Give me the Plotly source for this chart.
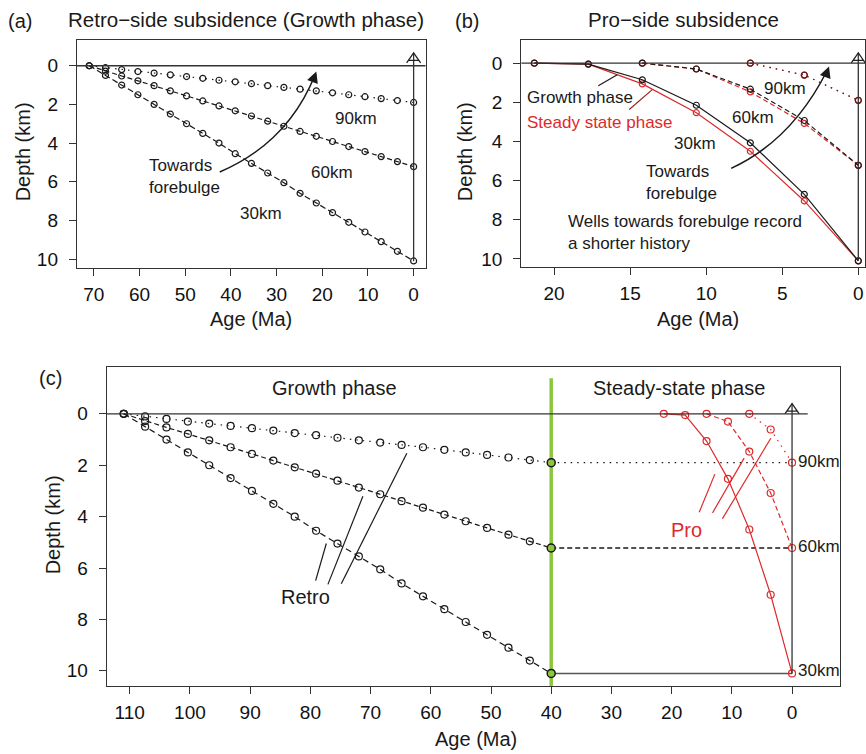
import plotly.graph_objects as go

W, H = 866, 754

# ---------------- data ----------------
# Retro-side wells (panel a): ages (Ma) and depths (km)
retro_age_a = [71.0, 67.45, 63.9, 60.35, 56.8, 53.25, 49.7, 46.15, 42.6, 39.05, 35.5,
               31.95, 28.4, 24.85, 21.3, 17.75, 14.2, 10.65, 7.1, 3.55, 0.0]
# same wells in panel c (growth phase ends at 40 Ma)
retro_age_c = [111.0, 107.45, 103.9, 100.35, 96.8, 93.25, 89.7, 86.15, 82.6, 79.05, 75.5,
               71.95, 68.4, 64.85, 61.3, 57.75, 54.2, 50.65, 47.1, 43.55, 40.0]
retro_30 = [0, 0.5, 1.0, 1.5, 2.0, 2.5, 3.0, 3.5, 4.0, 4.55, 5.05,
            5.55, 6.05, 6.6, 7.1, 7.6, 8.1, 8.6, 9.1, 9.6, 10.1]
retro_60 = [0, 0.28, 0.53, 0.78, 1.03, 1.3, 1.56, 1.82, 2.08, 2.33, 2.6,
            2.87, 3.13, 3.4, 3.65, 3.92, 4.18, 4.44, 4.7, 4.96, 5.22]
retro_90 = [0, 0.1, 0.2, 0.3, 0.38, 0.47, 0.56, 0.65, 0.75, 0.83, 0.93,
            1.03, 1.12, 1.21, 1.3, 1.4, 1.5, 1.6, 1.7, 1.8, 1.9]

# Pro-side wells
pro_age_30 = [21.3, 17.75, 14.2, 10.65, 7.1, 3.55, 0.0]
pro_age_60 = [14.2, 10.65, 7.1, 3.55, 0.0]
pro_age_90 = [7.1, 3.55, 0.0]
pro_grow_30 = [0, 0.05, 0.85, 2.15, 4.07, 6.7, 10.1]
pro_grow_60 = [0, 0.3, 1.33, 2.93, 5.22]
pro_grow_90 = [0, 0.61, 1.9]
pro_steady_30 = [0, 0.05, 1.06, 2.53, 4.5, 7.04, 10.1]
pro_steady_60 = [0, 0.3, 1.47, 3.08, 5.22]
pro_steady_90 = [0, 0.61, 1.9]

# connectors in panel c (end of growth phase -> present)
conn_age = [40.0, 0.0]
conn_90 = [1.9, 1.9]
conn_60 = [5.22, 5.22]
conn_30 = [10.1, 10.1]
green_age = [40.0, 40.0, 40.0]
green_depth = [1.9, 5.22, 10.1]

ticks_a = [70, 60, 50, 40, 30, 20, 10, 0]
ticks_b = [20, 15, 10, 5, 0]
ticks_c = [110, 100, 90, 80, 70, 60, 50, 40, 30, 20, 10, 0]
ticks_depth = [0, 2, 4, 6, 8, 10]

# ---------------- styling ----------------
BLK = '#1a1a1a'
RED = '#dd2a2a'
GREEN = '#8cc63e'
FONT = 'Liberation Sans, Arial, Helvetica, sans-serif'
DASH = '5px,3px'
DOT = '1.5px,5px'


def px(x):
    return x / W


def py(y):
    return 1 - y / H


fig = go.Figure()


def series(x, y, xa, ya, color, dash, size=6, width=1.2):
    fig.add_trace(go.Scatter(
        x=x, y=y, xaxis=xa, yaxis=ya, mode='lines+markers',
        line=dict(color=color, width=width, dash=dash),
        marker=dict(symbol='circle-open', size=size, color=color, line=dict(width=1.2)),
        showlegend=False, hoverinfo='x+y'))


# panel a
series(retro_age_a, retro_90, 'x', 'y', BLK, DOT)
series(retro_age_a, retro_60, 'x', 'y', BLK, DASH)
series(retro_age_a, retro_30, 'x', 'y', BLK, '6px,3px')

# panel b
series(pro_age_30, pro_steady_30, 'x2', 'y2', RED, 'solid')
series(pro_age_60, pro_steady_60, 'x2', 'y2', RED, DASH)
series(pro_age_90, pro_steady_90, 'x2', 'y2', RED, DOT)
series(pro_age_30, pro_grow_30, 'x2', 'y2', BLK, 'solid')
series(pro_age_60, pro_grow_60, 'x2', 'y2', BLK, DASH)
series(pro_age_90, pro_grow_90, 'x2', 'y2', '#5a1a1a', DOT)

# panel c connectors
for yy, dsh, col in [(conn_90, DOT, BLK), (conn_60, DASH, BLK), (conn_30, 'solid', '#555555')]:
    fig.add_trace(go.Scatter(x=conn_age, y=yy, xaxis='x3', yaxis='y3', mode='lines',
                             line=dict(color=col, width=1.5 if dsh == 'solid' else 1.3, dash=dsh),
                             showlegend=False, hoverinfo='skip'))

# panel c retro & pro
series(retro_age_c, retro_90, 'x3', 'y3', BLK, DOT, size=7)
series(retro_age_c, retro_60, 'x3', 'y3', BLK, DASH, size=7)
series(retro_age_c, retro_30, 'x3', 'y3', BLK, '6px,4px', size=7)
series(pro_age_30, pro_steady_30, 'x3', 'y3', RED, 'solid', size=7)
series(pro_age_60, pro_steady_60, 'x3', 'y3', RED, DASH, size=7)
series(pro_age_90, pro_steady_90, 'x3', 'y3', RED, DOT, size=7)

fig.add_trace(go.Scatter(x=green_age, y=green_depth, xaxis='x3', yaxis='y3', mode='markers',
                         marker=dict(symbol='circle', size=8, color=GREEN,
                                     line=dict(color=BLK, width=1.5)),
                         showlegend=False, hoverinfo='x+y'))

# ---------------- axes ----------------
common = dict(showline=True, linecolor='#333333', linewidth=1.3, mirror=True,
              ticks='outside', ticklen=7, tickwidth=1.2, tickcolor='#333333',
              showgrid=False, zeroline=False,
              tickfont=dict(size=19, color='#111111', family=FONT))

fig.update_layout(
    xaxis=dict(domain=[px(77), px(426)], range=[73.7, -2.6], tickvals=ticks_a, anchor='y',
               ticklabelstandoff=2, **common),
    yaxis=dict(domain=[py(269), py(40)], range=[10.46, -1.34], tickvals=ticks_depth, anchor='x',
               ticklabelstandoff=7, **common),
    xaxis2=dict(domain=[px(522), 1.0], range=[22.15, -0.44], tickvals=ticks_b, anchor='y2',
                ticklabelstandoff=2, **common),
    yaxis2=dict(domain=[py(268), py(40)], range=[10.41, -1.19], tickvals=ticks_depth, anchor='x2',
                ticklabelstandoff=7, **common),
    xaxis3=dict(domain=[px(107), px(841)], range=[113.8, -7.97], tickvals=ticks_c, anchor='y3',
                ticklabelstandoff=2, **common),
    yaxis3=dict(domain=[py(689), py(368)], range=[10.6, -1.84], tickvals=ticks_depth, anchor='x3',
                ticklabelstandoff=7, **common),
)

shapes = []
# zero-depth lines
shapes.append(dict(type='line', xref='x domain', yref='y', x0=0, x1=1, y0=0, y1=0,
                   line=dict(color='#333333', width=1.3)))
shapes.append(dict(type='line', xref='x2 domain', yref='y2', x0=0, x1=1, y0=0, y1=0,
                   line=dict(color='#333333', width=1.3)))
shapes.append(dict(type='line', xref='x3', yref='y3', x0=113.8, x1=-2.6, y0=0, y1=0,
                   line=dict(color='#333333', width=1.3)))
# green boundary line
shapes.append(dict(type='line', xref='x3', yref='y3', x0=40, x1=40, y0=-1.38, y1=10.6,
                   line=dict(color=GREEN, width=3.5), layer='below'))

# vertical lines at age 0 with open arrow heads
for xr, yr, tip in [('x', 'y', -0.67), ('x2', 'y2', -0.52), ('x3', 'y3', -0.4)]:
    shapes.append(dict(type='line', xref=xr, yref=yr, x0=0, x1=0, y0=10.1, y1=tip,
                       line=dict(color='#333333', width=1.3)))
    shapes.append(dict(type='path', xref=xr, yref=yr, xsizemode='pixel', ysizemode='pixel',
                       xanchor=0, yanchor=tip,
                       path='M -7,-10 L 0,0 L 7,-10 M -5.5,-7.5 L 5.5,-7.5',
                       line=dict(color='#222222', width=1.3)))


# curved arrows (paper coords)
def curve(p0, c, p1):
    return dict(type='path', xref='paper', yref='paper',
                path=f"M {px(p0[0])},{py(p0[1])} Q {px(c[0])},{py(c[1])} {px(p1[0])},{py(p1[1])}",
                line=dict(color=BLK, width=1.5))


shapes.append(curve((220, 172.7), (288, 143.5), (315.5, 75)))
shapes.append(curve((732, 169), (793, 140.8), (828.5, 70)))


# pointer lines
def seg(x0, y0, x1, y1, color):
    return dict(type='line', xref='paper', yref='paper', x0=px(x0), y0=py(y0), x1=px(x1), y1=py(y1),
                line=dict(color=color, width=1.2))


shapes += [
    seg(599, 86, 618, 75, BLK),
    seg(630, 110, 653, 90, '#a02020'),
    seg(316, 583, 326.7, 545.7, BLK),
    seg(328.3, 586.7, 363.3, 498.3, BLK),
    seg(341.7, 586, 407.3, 455, BLK),
    seg(700, 514.3, 715.7, 476, RED),
    seg(713.3, 515, 745, 460, RED),
    seg(723.3, 520.7, 771.7, 440, RED),
]
fig.update_layout(shapes=shapes)

ann = []


def text(t, x, y, size=17, color=BLK, xanchor='center', angle=0, align='center'):
    ann.append(dict(text=t, x=px(x), y=py(y), xref='paper', yref='paper', showarrow=False,
                    xanchor=xanchor, yanchor='middle', textangle=angle, align=align,
                    font=dict(size=size, color=color, family=FONT)))


# panel titles
text('(a)', 20, 21, 20)
text('Retro\u2212side subsidence (Growth phase)', 246, 20, 20.5)
text('(b)', 467.5, 21, 20)
text('Pro\u2212side subsidence', 684.7, 20, 20.5)
text('(c)', 51, 380, 20)
# axis titles
text('Depth (km)', 22.5, 152.5, 20, angle=-90)
text('Depth (km)', 465.8, 152.5, 20, angle=-90)
text('Depth (km)', 52.5, 527, 20, angle=-90)
text('Age (Ma)', 251.5, 320, 20)
text('Age (Ma)', 699, 320, 20)
text('Age (Ma)', 477, 742, 20)
# panel a labels
text('90km', 356.7, 119.3)
text('60km', 332, 172.7)
text('30km', 261.7, 214.3)
text('Towards<br>forebulge', 146.7, 177, xanchor='left', align='left')
# panel b labels
text('Growth phase', 526, 98, xanchor='left')
text('Steady state phase', 526, 123.3, color=RED, xanchor='left')
text('90km', 786, 89)
text('60km', 753.7, 117.7)
text('30km', 696, 144.3)
text('Towards<br>forebulge', 645, 183.5, xanchor='left', align='left')
text('Wells towards forebulge record<br>a shorter history', 566.7, 233.3, xanchor='left', align='left')
# panel c labels
text('Growth phase', 335, 390, 20)
text('Steady-state phase', 680, 390, 20)
text('90km', 797, 463.5, xanchor='left')
text('60km', 797, 548.5, xanchor='left')
text('30km', 797, 673, xanchor='left')
text('Retro', 306, 599, 20)
text('Pro', 687.5, 531.7, 20, color=RED)

# arrow heads of curved arrows
for (hx, hy) in [(316.7, 71.7), (830, 66.7)]:
    ann.append(dict(x=px(hx), y=py(hy), xref='paper', yref='paper', text='', showarrow=True,
                    arrowhead=2, arrowsize=1.5, arrowwidth=1.5, arrowcolor=BLK, ax=-4, ay=11))

fig.update_layout(annotations=ann, width=W, height=H, autosize=False,
                  margin=dict(l=0, r=0, t=0, b=0),
                  paper_bgcolor='white', plot_bgcolor='white',
                  font=dict(family=FONT, color=BLK))

fig.write_html('out.html')
